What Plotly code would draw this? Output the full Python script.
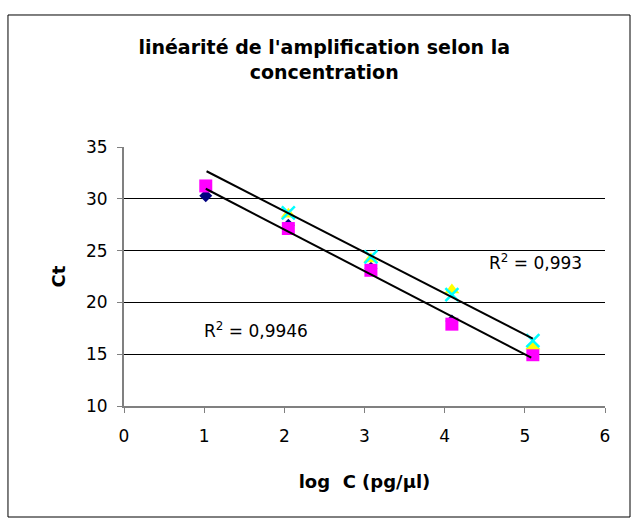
import plotly.graph_objects as go

# ---- data ----
log_c = [1.02, 2.05, 3.08, 4.09, 5.10]
ct_diamond = [30.3, 27.45, 23.3, 18.2, 15.0]
ct_square = [31.24, 27.13, 23.1, 17.9, 14.95]
ct_triangle = [None, 28.5, 24.2, 21.2, 15.8]
ct_cross = [None, 28.65, 24.4, 20.75, 16.3]

trend_lower_x = [1.02, 5.08]
trend_lower_y = [30.97, 14.67]
trend_upper_x = [1.03, 5.10]
trend_upper_y = [32.66, 16.5]

x_ticks = [0, 1, 2, 3, 4, 5, 6]
y_ticks = [10, 15, 20, 25, 30, 35]

title_text = "linéarité de l'amplification selon la<br>concentration"
x_title = "log\u00a0 C (pg/µl)"
y_title = "Ct"
r2_upper = "R<sup>2</sup> = 0,993"
r2_lower = "R<sup>2</sup> = 0,9946"

FONT = "DejaVu Sans, Liberation Sans, Arial, sans-serif"

fig = go.Figure()
fig.add_trace(go.Scatter(x=log_c, y=ct_diamond, mode="markers",
                         marker=dict(symbol="diamond", size=10, color="#000080"),
                         showlegend=False))
fig.add_trace(go.Scatter(x=log_c, y=ct_square, mode="markers",
                         marker=dict(symbol="square", size=13, color="#FF00FF"),
                         showlegend=False))
fig.add_trace(go.Scatter(x=log_c, y=ct_triangle, mode="markers",
                         marker=dict(symbol="triangle-up", size=13, color="#FFFF00"),
                         showlegend=False))
fig.add_trace(go.Scatter(x=log_c, y=ct_cross, mode="markers",
                         marker=dict(symbol="x-thin-open", size=13, color="#00FFFF",
                                     line=dict(color="#00FFFF", width=2.5)),
                         showlegend=False))
fig.add_trace(go.Scatter(x=trend_upper_x, y=trend_upper_y, mode="lines",
                         line=dict(color="black", width=2), showlegend=False))
fig.add_trace(go.Scatter(x=trend_lower_x, y=trend_lower_y, mode="lines",
                         line=dict(color="black", width=2), showlegend=False))

fig.update_layout(
    width=632, height=519,
    margin=dict(l=124, r=27, t=147, b=113),
    paper_bgcolor="white", plot_bgcolor="white",
    font=dict(family=FONT, color="black", size=17),
    title=dict(text=title_text, x=0.513, xanchor="center", y=1 - 54 / 519,
               yanchor="middle",
               font=dict(family=FONT, size=19, color="black", weight="bold")),
    xaxis=dict(range=[0, 6], tickvals=x_ticks, showgrid=False, zeroline=False,
               showline=True, linecolor="#808080", linewidth=2,
               ticks="outside", ticklen=5, tickcolor="#808080",
               ticklabelstandoff=9,
               tickfont=dict(size=17),
               title=dict(text=x_title, standoff=30,
                          font=dict(size=18, weight="bold"))),
    yaxis=dict(range=[10, 35], tickvals=y_ticks, showgrid=True, gridcolor="black",
               gridwidth=1, zeroline=False,
               showline=True, linecolor="#808080", linewidth=2,
               ticks="outside", ticklen=5, tickcolor="#808080",
               ticklabelstandoff=6,
               tickfont=dict(size=17),
               title=dict(text=y_title, standoff=16,
                          font=dict(size=18, weight="bold"))),
    annotations=[
        dict(text=r2_upper, x=5.13, y=23.9, xref="x", yref="y", showarrow=False,
             font=dict(size=17)),
        dict(text=r2_lower, x=1.65, y=17.34, xref="x", yref="y", showarrow=False,
             font=dict(size=17)),
    ],
    shapes=[dict(type="rect", xref="paper", yref="paper",
                 x0=-0.2412, x1=1.052, y0=-0.4286, y1=1.5097,
                 line=dict(color="black", width=1), layer="below")],
)

fig.write_html("out.html",
               config={"displayModeBar": False},
               post_script="document.body.style.margin='0';document.body.style.overflow='hidden';")
